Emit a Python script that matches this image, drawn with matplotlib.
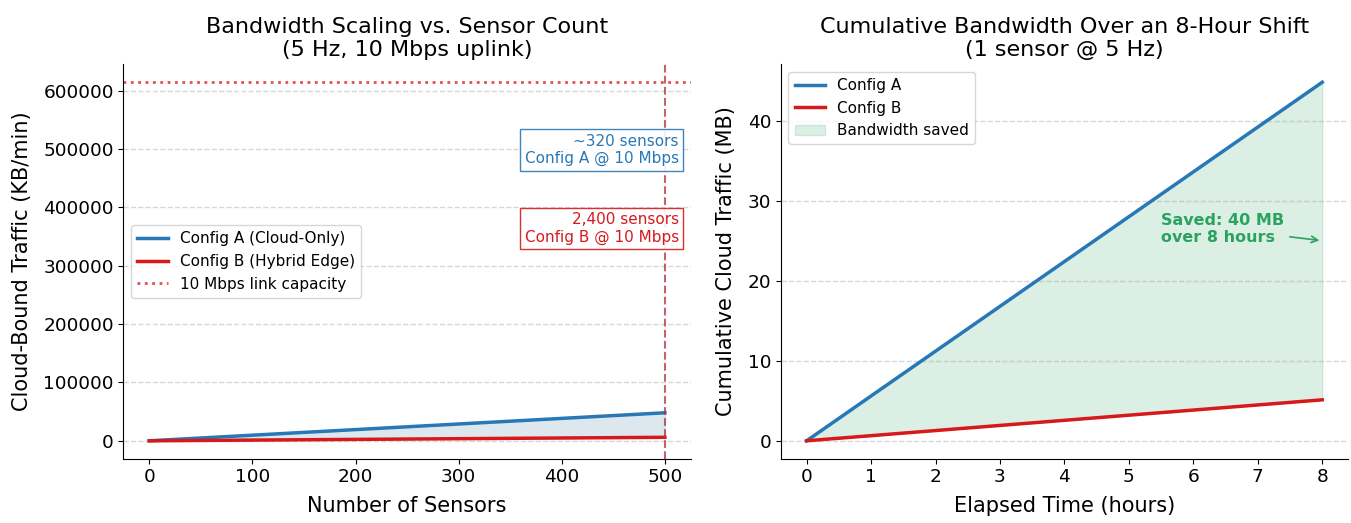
import numpy as np
import matplotlib
matplotlib.use("Agg")
import matplotlib.pyplot as plt

# left panel: traffic vs sensor count (KB/min)
sensors = [0, 100, 200, 300, 400, 500]
config_a_kbmin = [0, 9600, 19200, 28800, 38400, 48000]
config_b_kbmin = [0, 1200, 2400, 3600, 4800, 6000]
link_capacity_kbmin = 614400

# right panel: cumulative traffic over a shift (MB)
hours = [0, 1, 2, 3, 4, 5, 6, 7, 8]
config_a_mb = [0, 5.6, 11.2, 16.8, 22.4, 28.0, 33.6, 39.2, 44.8]
config_b_mb = [0, 0.64, 1.28, 1.92, 2.56, 3.2, 3.84, 4.48, 5.12]

BLUE = "#2878b8"
RED = "#d7191c"
GREEN = "#2ca25f"

plt.rcParams["font.family"] = ["DejaVu Sans"]

fig, (ax1, ax2) = plt.subplots(1, 2, figsize=(13.51, 5.23), dpi=100)
fig.subplots_adjust(left=0.0914, right=0.9978, bottom=0.1229, top=0.877, wspace=0.159)

# ---- left ----
ax1.plot(sensors, config_a_kbmin, color=BLUE, lw=2.5, label="Config A (Cloud-Only)")
ax1.plot(sensors, config_b_kbmin, color=RED, lw=2.5, label="Config B (Hybrid Edge)")
ax1.fill_between(sensors, config_b_kbmin, config_a_kbmin, color="#a8c6d6", alpha=0.4)
ax1.axhline(link_capacity_kbmin, color="#e03030", ls=":", lw=2, alpha=0.85,
            label="10 Mbps link capacity")
ax1.axvline(500, color="#a83240", ls="--", lw=1.5, alpha=0.75)

ax1.text(0.979, 0.783, "~320 sensors\nConfig A @ 10 Mbps", transform=ax1.transAxes,
         ha="right", va="center", color=BLUE, fontsize=11,
         bbox=dict(boxstyle="square,pad=0.3", fc="white", ec=BLUE, alpha=0.9))
ax1.text(0.979, 0.584, "2,400 sensors\nConfig B @ 10 Mbps", transform=ax1.transAxes,
         ha="right", va="center", color=RED, fontsize=11,
         bbox=dict(boxstyle="square,pad=0.3", fc="white", ec=RED, alpha=0.9))

ax1.set_title("Bandwidth Scaling vs. Sensor Count\n(5 Hz, 10 Mbps uplink)", fontsize=16)
ax1.set_xlabel("Number of Sensors", fontsize=15, labelpad=7)
ax1.set_ylabel("Cloud-Bound Traffic (KB/min)", fontsize=15, labelpad=8)
ax1.legend(loc="center left", fontsize=11)

# ---- right ----
ax2.plot(hours, config_a_mb, color=BLUE, lw=2.5, label="Config A")
ax2.plot(hours, config_b_mb, color=RED, lw=2.5, label="Config B")
ax2.fill_between(hours, config_b_mb, config_a_mb, color=GREEN, alpha=0.17,
                 label="Bandwidth saved")
ax2.annotate("Saved: 40 MB\nover 8 hours", xy=(8, 25), xytext=(5.5, 26.5),
             ha="left", va="center", color=GREEN, fontsize=11.5, fontweight="bold",
             arrowprops=dict(arrowstyle="->", color=GREEN, lw=1.2))

ax2.set_title("Cumulative Bandwidth Over an 8-Hour Shift\n(1 sensor @ 5 Hz)", fontsize=16)
ax2.set_xlabel("Elapsed Time (hours)", fontsize=15, labelpad=7)
ax2.set_ylabel("Cumulative Cloud Traffic (MB)", fontsize=15, labelpad=8)
ax2.legend(loc="upper left", fontsize=11)

for ax in (ax1, ax2):
    ax.grid(axis="y", ls="--", lw=1, alpha=0.5)
    ax.spines["top"].set_visible(False)
    ax.spines["right"].set_visible(False)
    ax.tick_params(labelsize=13.3)

plt.savefig("out.png")
